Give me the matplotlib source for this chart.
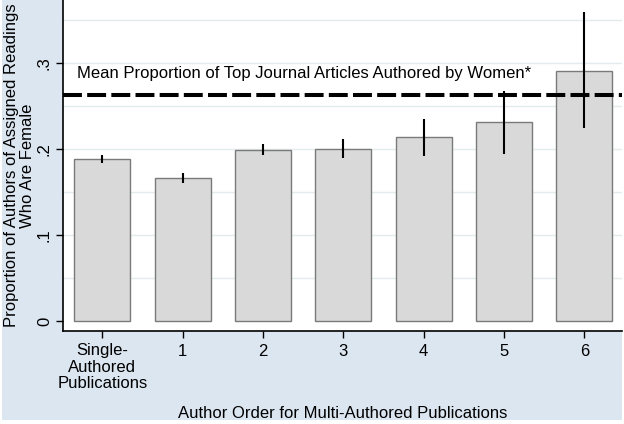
import matplotlib
matplotlib.use("Agg")
import matplotlib.pyplot as plt
from matplotlib.patches import Rectangle
import numpy as np

categories = ["Single-\nAuthored\nPublications", "1", "2", "3", "4", "5", "6"]
values = [0.188, 0.166, 0.199, 0.200, 0.2135, 0.231, 0.291]
err_low = [0.184, 0.161, 0.193, 0.1895, 0.192, 0.194, 0.224]
err_high = [0.193, 0.172, 0.206, 0.2115, 0.2345, 0.268, 0.359]
mean_line = 0.2624
mean_label = "Mean Proportion of Top Journal Articles Authored by Women*"
yticks = [0, 0.1, 0.2, 0.3]
yticklabels = ["0", ".1", ".2", ".3"]
grid_vals = [0.05, 0.10, 0.15, 0.20, 0.25, 0.30, 0.35]

plt.rcParams['font.family'] = ['Liberation Sans', 'DejaVu Sans']
FS = 12

fig = plt.figure(figsize=(6.24, 4.24), dpi=100)
fig.patch.set_facecolor("white")
bg = Rectangle((2/624, 4/424), 620/624, 1 - 4/424, transform=fig.transFigure,
               facecolor="#DCE6F1", edgecolor="none", zorder=-10)
fig.patches.append(bg)

ax = fig.add_axes([63/624, (424-331)/424, (622-63)/624, 331/424])
ax.set_facecolor("white")

x = np.arange(len(categories))
for g in grid_vals:
    ax.axhline(g, color="#E2ECEE", lw=1.0, zorder=0)

ax.bar(x, values, width=0.70, color="#D9D9D9", edgecolor="#7A7A7A", linewidth=1.0, zorder=2)
ax.vlines(x, err_low, err_high, color="black", lw=1.5, zorder=3)

ax.axhline(mean_line, color="black", lw=2.9, dashes=(4.7, 1.3), zorder=4)
ax.text(-0.32, 0.2875, mean_label, fontsize=FS, va="center", ha="left", color="black", zorder=5)

ax.set_xlim(-0.49, 6.47)
ax.set_ylim(-0.0116, 0.3733)
ax.set_xticks(x)
ax.set_xticklabels(categories, fontsize=FS, linespacing=1.12)
ax.set_yticks(yticks)
ax.set_yticklabels(yticklabels, fontsize=FS, rotation=90, va="center")
ax.tick_params(axis="both", direction="out", length=5, width=1.0, color="black")
ax.tick_params(axis="x", pad=4)
ax.tick_params(axis="y", pad=3)

for s in ["top", "right"]:
    ax.spines[s].set_visible(False)
for s in ["left", "bottom"]:
    ax.spines[s].set_color("black")
    ax.spines[s].set_linewidth(1.2)

ax.set_ylabel("Proportion of Authors of Assigned Readings\nWho Are Female", fontsize=FS, linespacing=1.12, labelpad=1)
fig.text((63+622)/2/624, 1 - 414/424, "Author Order for Multi-Authored Publications",
         fontsize=FS, ha="center", va="center")

fig.savefig("out.png", dpi=100, facecolor=fig.get_facecolor())
